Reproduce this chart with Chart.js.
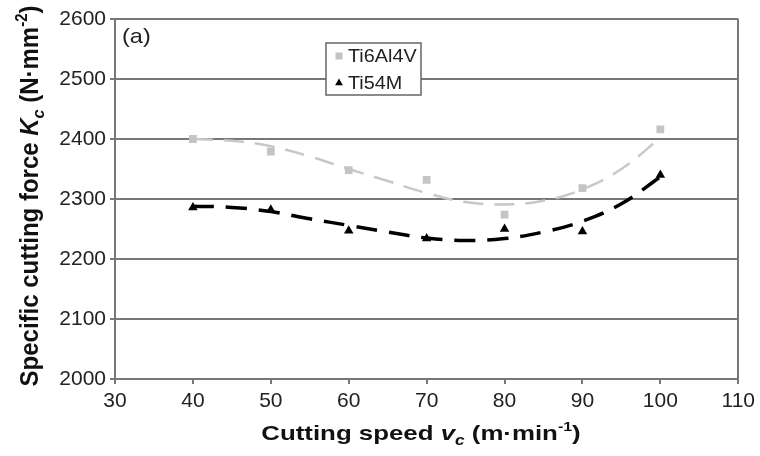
<!DOCTYPE html>
<html>
<head>
<meta charset="utf-8">
<script src="https://cdn.jsdelivr.net/npm/chart.js@4.4.1/dist/chart.umd.min.js"></script>
<style>
  html, body { margin: 0; padding: 0; background: #fff; }
  #wrap { width: 760px; height: 456px; }
</style>
</head>
<body>
<div id="wrap"><canvas id="kcChart" width="760" height="456"></canvas></div>
<script>
// measured points
const speeds = [40, 50, 60, 70, 80, 90, 100];
const ti6al4v = [2400, 2379, 2348, 2332, 2274, 2318, 2416];
const ti54m = [2286, 2282, 2247, 2234, 2250, 2246, 2340];

// dashed trend lines
const trendSpeeds = [40, 45, 50, 55, 60, 65, 70, 75, 80, 85, 90, 95, 100];
const ti6al4vTrend = [2400, 2397, 2388, 2371, 2350, 2330, 2310, 2295, 2291, 2297, 2316, 2350, 2402];
const ti54mTrend = [2288, 2286, 2279, 2267, 2256, 2245, 2235, 2231, 2234, 2245, 2263, 2292, 2337];

// axis ranges
const xRange = [30, 110];
const yRange = [2000, 2600];
const xStep = 10;
const yStep = 100;

const GRID = '#777';
const LIGHT = '#c4c4c4';
const FONT = "'Liberation Sans', Arial, sans-serif";

function toXY(xs, ys) {
    return xs.map(function(x, i) { return { x: x, y: ys[i] }; });
}

// draws a line of text made of runs (for sub/superscripts)
// sx stretches the text along its own direction, sy across it
function drawRuns(ctx, runs, cx, cy, angle, sx, sy) {
    ctx.save();
    ctx.translate(cx, cy);
    ctx.rotate(angle);
    ctx.scale(sx, sy);
    let total = 0;
    runs.forEach(function(r) {
        ctx.font = r.font;
        r.w = ctx.measureText(r.t).width;
        total += r.w;
    });
    let x = -total / 2;
    ctx.textBaseline = 'alphabetic';
    ctx.textAlign = 'left';
    ctx.fillStyle = '#111';
    runs.forEach(function(r) {
        ctx.font = r.font;
        ctx.fillText(r.t, x, r.dy || 0);
        x += r.w;
    });
    ctx.restore();
}

const annotations = {
    id: 'annotations',
    afterDatasetsDraw(chart) {
        const ctx = chart.ctx;
        const area = chart.chartArea;

        // panel label
        ctx.save();
        ctx.translate(area.left + 7, 37);
        ctx.scale(1.12, 1);
        ctx.font = '21px ' + FONT;
        ctx.fillStyle = '#222';
        ctx.textBaseline = 'middle';
        ctx.fillText('(a)', 0, 0);
        ctx.restore();

        // legend box
        ctx.save();
        const bx = 326, by = 43, bw = 95, bh = 52;
        ctx.fillStyle = '#fff';
        ctx.fillRect(bx, by, bw, bh);
        ctx.strokeStyle = '#666';
        ctx.lineWidth = 1.5;
        ctx.strokeRect(bx, by, bw, bh);
        const items = chart.data.datasets.filter(function(d) { return d.inLegend; });
        items.forEach(function(d, i) {
            const y = by + 13 + i * 27;
            ctx.fillStyle = d.backgroundColor;
            ctx.strokeStyle = d.backgroundColor;
            Chart.helpers.drawPoint(ctx, {
                pointStyle: d.pointStyle,
                radius: d.pointStyle === 'rect' ? 5 : 4.5,
                rotation: 0,
                borderWidth: 0
            }, bx + 13, y);
            ctx.save();
            ctx.translate(bx + 22, y + 1);
            ctx.scale(1.1, 1);
            ctx.fillStyle = '#222';
            ctx.font = '18px ' + FONT;
            ctx.textBaseline = 'middle';
            ctx.fillText(d.label, 0, 0);
            ctx.restore();
        });
        ctx.restore();

        // axis titles
        const b = 'bold 21px ' + FONT;
        const bi = 'italic bold 21px ' + FONT;
        const sm = 'bold 13px ' + FONT;
        const smi = 'italic bold 14px ' + FONT;
        drawRuns(ctx, [
            { t: 'Cutting speed ', font: b },
            { t: 'v', font: bi },
            { t: 'c', font: smi, dy: 5 },
            { t: ' (m\u00b7min', font: b },
            { t: '-1', font: sm, dy: -9 },
            { t: ')', font: b }
        ], 421, 440, 0, 1.23, 1);

        const b2 = 'bold 24px ' + FONT;
        const bi2 = 'italic bold 24px ' + FONT;
        const sm2 = 'bold 15px ' + FONT;
        const smi2 = 'italic bold 16px ' + FONT;
        drawRuns(ctx, [
            { t: 'Specific cutting force ', font: b2 },
            { t: 'K', font: bi2 },
            { t: 'c', font: smi2, dy: 6 },
            { t: ' (N\u00b7mm', font: b2 },
            { t: '-2', font: sm2, dy: -10 },
            { t: ')', font: b2 }
        ], 38, 196, -Math.PI / 2, 1, 1.08);
    }
};

new Chart(document.getElementById('kcChart').getContext('2d'), {
    type: 'scatter',
    data: {
        datasets: [{
            label: 'Ti6Al4V',
            inLegend: true,
            data: toXY(speeds, ti6al4v),
            pointStyle: 'rect',
            pointRadius: 5.5,
            backgroundColor: LIGHT,
            borderWidth: 0,
            order: 1
        }, {
            label: 'Ti54M',
            inLegend: true,
            data: toXY(speeds, ti54m),
            pointStyle: 'triangle',
            pointRadius: 5.5,
            backgroundColor: '#000',
            borderWidth: 0,
            order: 1
        }, {
            label: 'Ti6Al4V trend',
            data: toXY(trendSpeeds, ti6al4vTrend),
            showLine: true,
            pointRadius: 0,
            borderColor: '#c8c8c8',
            borderWidth: 2.5,
            borderDash: [20, 11],
            tension: 0.4,
            order: 2
        }, {
            label: 'Ti54M trend',
            data: toXY(trendSpeeds, ti54mTrend),
            showLine: true,
            pointRadius: 0,
            borderColor: '#000',
            borderWidth: 3.5,
            borderDash: [21, 12],
            tension: 0.4,
            order: 2
        }]
    },
    options: {
        responsive: false,
        animation: false,
        devicePixelRatio: 1,
        layout: {
            padding: { top: 19, right: 21, left: 0, bottom: 0 }
        },
        plugins: {
            legend: { display: false },
            tooltip: { enabled: false }
        },
        scales: {
            x: {
                type: 'linear',
                min: xRange[0],
                max: xRange[1],
                afterFit: function(scale) { scale.height = 77; },
                ticks: {
                    stepSize: xStep,
                    padding: 5,
                    color: '#222',
                    font: { family: FONT, size: 21 },
                    callback: function(v) { return String(v); }
                },
                grid: {
                    drawOnChartArea: true,
                    tickLength: 5,
                    lineWidth: 2,
                    color: function(c) { return c.tick && c.tick.value === xRange[1] ? GRID : 'rgba(0,0,0,0)'; },
                    tickColor: GRID
                },
                border: { color: GRID, width: 2 }
            },
            y: {
                min: yRange[0],
                max: yRange[1],
                afterFit: function(scale) { scale.width = 115; },
                ticks: {
                    stepSize: yStep,
                    padding: 4,
                    color: '#222',
                    font: { family: FONT, size: 21 },
                    callback: function(v) { return String(v); }
                },
                grid: {
                    tickLength: 5,
                    lineWidth: 2,
                    color: GRID,
                    tickColor: GRID
                },
                border: { color: GRID, width: 2 }
            }
        }
    },
    plugins: [annotations]
});
</script>
</body>
</html>
